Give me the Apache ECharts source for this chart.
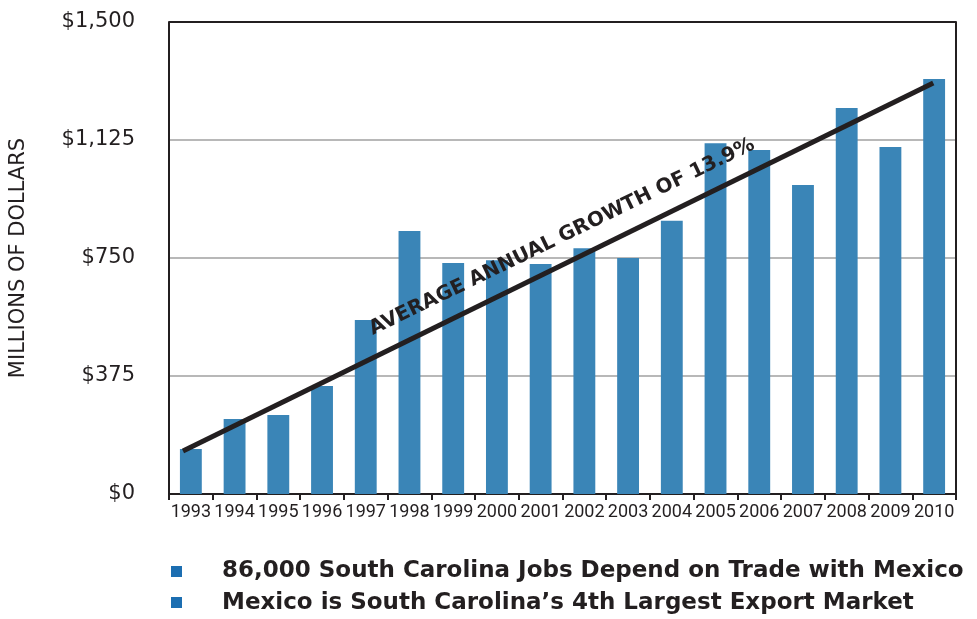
<!DOCTYPE html>
<html>
<head>
<meta charset="utf-8">
<script src="https://cdn.jsdelivr.net/npm/echarts@6/dist/echarts.min.js"></script>
<style>
  html, body { margin: 0; padding: 0; background: #fff; }
  #chart { width: 977px; height: 619px; }
</style>
</head>
<body>
<div id="chart"></div>
<script>
// data (millions of dollars)
const years = ['1993', '1994', '1995', '1996', '1997', '1998', '1999', '2000', '2001',
  '2002', '2003', '2004', '2005', '2006', '2007', '2008', '2009', '2010'];
const exports = [143, 238, 251, 343, 553, 836, 734, 743, 731,
  781, 750, 868, 1115, 1093, 982, 1227, 1103, 1319];
// trend line end points: [category position, value]
const trendLine = [[-0.18, 137], [16.98, 1306]];
const trendText = 'AVERAGE ANNUAL GROWTH OF 13.9%';
const notes = [
  '86,000 South Carolina Jobs Depend on Trade with Mexico',
  'Mexico is South Carolina\u2019s 4th Largest Export Market'
];

const ink = '#231f20';
const blue = '#3a85b7';
const bullet = '#1c6eb1';
const grey = '#b8b8b8';
const font = '"DejaVu Sans", sans-serif';

let chart = echarts.init(document.getElementById('chart'));

chart.setOption({
  animation: false,
  grid: { left: 166, right: 21, top: 22, bottom: 125 },
  xAxis: [
    {
      type: 'category',
      data: years,
      axisLine: { lineStyle: { color: ink, width: 2 } },
      axisTick: { show: true, length: 6, lineStyle: { color: ink, width: 2 } },
      axisLabel: { color: ink, fontFamily: 'Roboto, sans-serif', fontSize: 18, margin: 9, interval: 0 }
    },
    { type: 'value', min: -0.5, max: 17.5, show: false }
  ],
  yAxis: [
    {
      type: 'value',
      min: 0, max: 1500, interval: 375,
      name: 'MILLIONS OF DOLLARS',
      nameLocation: 'middle',
      nameGap: 140,
      nameTextStyle: { color: ink, fontFamily: font, fontSize: 21 },
      axisLine: { show: true, onZero: false, lineStyle: { color: ink, width: 2 } },
      axisTick: { show: false },
      splitLine: { lineStyle: { color: [grey, grey, grey, grey, ink], width: 2 } },
      axisLabel: {
        color: ink, fontFamily: font, fontSize: 21, margin: 34,
        formatter: v => '$' + v.toLocaleString('en-US')
      }
    },
    {
      // right frame edge
      type: 'value', position: 'right',
      min: 0, max: 1500, interval: 375,
      axisLine: { show: true, onZero: false, lineStyle: { color: ink, width: 2 } },
      axisTick: { show: false },
      axisLabel: { show: false },
      splitLine: { show: false }
    }
  ],
  series: [
    {
      type: 'bar',
      data: exports,
      barWidth: '50%',
      itemStyle: { color: blue }
    },
    {
      type: 'line',
      xAxisIndex: 1,
      data: trendLine,
      symbol: 'none',
      lineStyle: { color: ink, width: 5, cap: 'butt' },
      z: 5
    }
  ],
  graphic: [
    {
      type: 'text',
      x: 562, y: 237,
      rotation: 26 * Math.PI / 180,
      z: 10,
      style: {
        text: trendText, fill: ink,
        font: 'bold 20px ' + font,
        textAlign: 'center', textVerticalAlign: 'middle'
      }
    },
    { type: 'rect', shape: { x: 171, y: 566, width: 11, height: 11 }, style: { fill: bullet } },
    { type: 'rect', shape: { x: 171, y: 597, width: 11, height: 11 }, style: { fill: bullet } },
    {
      type: 'text', x: 222, y: 571,
      style: { text: notes[0], fill: ink, font: 'bold 23px ' + font, textVerticalAlign: 'middle' }
    },
    {
      type: 'text', x: 222, y: 603,
      style: { text: notes[1], fill: ink, font: 'bold 23px ' + font, textVerticalAlign: 'middle' }
    }
  ]
});
</script>
</body>
</html>
